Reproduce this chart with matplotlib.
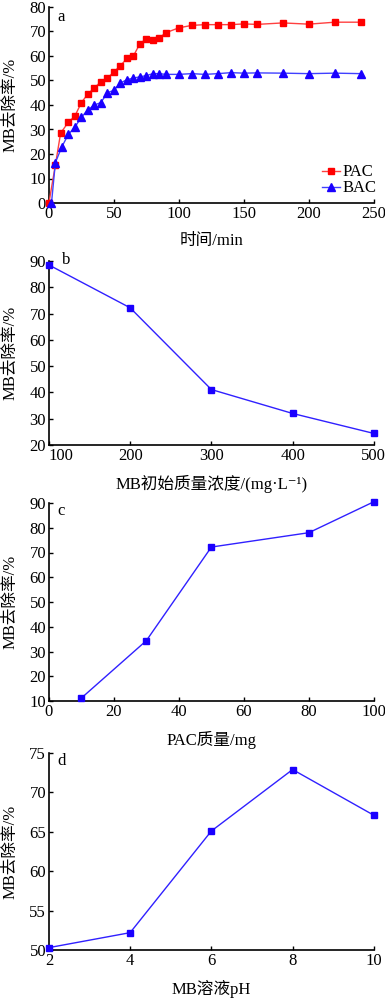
import matplotlib
matplotlib.use("Agg")
import matplotlib.pyplot as plt

plt.rcParams['font.family'] = ['Liberation Serif', 'Noto Sans CJK SC', 'DejaVu Serif']

# Panel a
time_pac = [0, 5, 9, 15, 20, 25, 30, 35, 40, 45, 50, 55, 60, 65, 70, 75, 80, 85, 90, 100,
            110, 120, 130, 140, 150, 160, 180, 200, 220, 240]
pac = [0, 15.5, 28.5, 33, 35.5, 41, 44.5, 47, 49.5, 51, 53.5, 56, 59, 60, 65, 67, 66.5, 67.5, 69.5, 71.5,
       72.5, 72.8, 72.8, 72.8, 73.1, 72.9, 73.5, 73.0, 73.8, 73.8]
time_bac = [2, 5, 10, 15, 20, 25, 30, 35, 40, 45, 50, 55, 60, 65, 70, 75, 80, 85, 90, 100,
            110, 120, 130, 140, 150, 160, 180, 200, 220, 240]
bac = [0, 16.5, 23, 28, 31, 35, 38, 40, 41, 45, 46, 49, 50.3, 51, 51.5, 52, 52.8, 52.8, 52.5, 52.5,
       52.8, 52.5, 52.8, 53.2, 53.0, 53.1, 53.0, 52.8, 53.0, 52.8]

# Panel b
conc = [100, 200, 300, 400, 500]
rate_b = [88.5, 72.2, 41.1, 32.0, 24.4]

# Panel c
mass = [10, 30, 50, 80, 100]
rate_c = [11.2, 34.4, 72.2, 78.0, 90.5]

# Panel d
ph = [2, 4, 6, 8, 10]
rate_d = [50.3, 52.2, 65.1, 72.9, 67.1]

fig = plt.figure(figsize=(3.85, 10), dpi=100)
L, W = 0.127, 0.844
axa = fig.add_axes([L, 0.797, W, 0.196])
axb = fig.add_axes([L, 0.555, W, 0.184])
axc = fig.add_axes([L, 0.299, W, 0.198])
axd = fig.add_axes([L, 0.050, W, 0.197])

fs = 12
ylab = 'MB去除率/%'

def style(ax, label, ly=1.0):
    for s in ['top', 'right']:
        ax.spines[s].set_visible(False)
    for s in ['left', 'bottom']:
        ax.spines[s].set_linewidth(1.2)
    ax.tick_params(direction='in', length=3, width=1, labelsize=fs, pad=2)
    ax.set_ylabel(ylab, fontsize=fs)
    ax.yaxis.set_label_coords(-0.095, 0.5)
    ax.xaxis.labelpad = 8
    ax.text(0.025, ly, label, transform=ax.transAxes, fontsize=fs, va='top', ha='left')

axa.plot(time_pac, pac, color='#ff4040', lw=1, marker='s', ms=5, mfc='#ff0000', mec='#ff0000',
         label='PAC', clip_on=False, zorder=3)
axa.plot(time_bac, bac, color='#4040ff', lw=1, marker='^', ms=5.5, mfc='#1a00ff', mec='#1a00ff',
         label='BAC', clip_on=False, zorder=3)
axa.set_xlim(0, 250)
axa.set_ylim(0, 80)
axa.set_xticks([0, 50, 100, 150, 200, 250])
axa.set_yticks(range(0, 81, 10))
axa.set_xlabel('时间/min', fontsize=fs)
style(axa, 'a', 0.99)
axa.legend(loc='lower right', frameon=False, fontsize=fs, handlelength=1.1, handletextpad=0.15,
           labelspacing=0.0, borderaxespad=0, bbox_to_anchor=(1.03, 0.0))

blue_kw = dict(color='#3020ff', lw=1, marker='s', ms=5, mfc='#1a00ff', mec='#1a00ff', clip_on=False, zorder=3)

axb.plot(conc, rate_b, **blue_kw)
axb.set_xlim(100, 500)
axb.set_ylim(20, 90)
axb.set_xticks([100, 200, 300, 400, 500])
axb.set_yticks(range(20, 91, 10))
axb.set_xlabel('MB初始质量浓度/(mg·L⁻¹)', fontsize=fs)
style(axb, 'b', 1.05)
axb.texts[0].set_x(0.04)
fig.canvas.draw()
axb.get_xticklabels()[0].set_horizontalalignment('left')

axc.plot(mass, rate_c, **blue_kw)
axc.set_xlim(0, 100)
axc.set_ylim(10, 90)
axc.set_xticks([0, 20, 40, 60, 80, 100])
axc.set_yticks(range(10, 91, 10))
axc.set_xlabel('PAC质量/mg', fontsize=fs)
style(axc, 'c', 1.0)

axd.plot(ph, rate_d, **blue_kw)
axd.set_xlim(2, 10)
axd.set_ylim(50, 75)
axd.set_xticks([2, 4, 6, 8, 10])
axd.set_yticks(range(50, 76, 5))
axd.set_xlabel('MB溶液pH', fontsize=fs)
style(axd, 'd', 1.0)

fig.savefig('out.png', dpi=100)
